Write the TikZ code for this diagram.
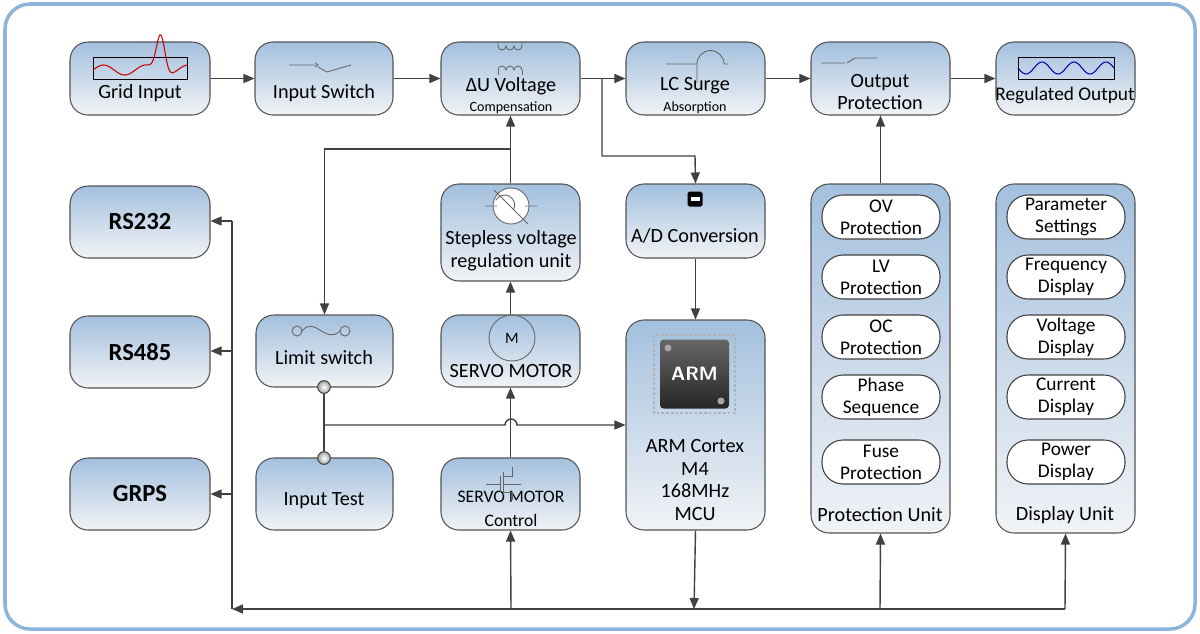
\documentclass[tikz,border=0pt]{standalone}
\usepackage{fontspec}
\setmainfont{Carlito}
\usetikzlibrary{arrows.meta,shapes.geometric}
\definecolor{frame}{HTML}{8DB4DA}
\definecolor{topc}{HTML}{A3C0DE}
\definecolor{botc}{HTML}{F1F3F6}
\definecolor{ln}{HTML}{404040}
\tikzset{
  box/.style={draw=ln!90,line width=0.6pt,rounded corners=0.36cm,top color=topc,bottom color=botc,inner sep=0},
  pill/.style={draw=ln,line width=0.6pt,rounded corners=0.42cm,fill=white,minimum width=2.36cm,minimum height=0.88cm,align=center,font=\fontsize{11}{12.5}\selectfont,inner sep=0},
  lab/.style={font=\fontsize{11.5}{13}\selectfont,align=center,text=black},
  slab/.style={font=\fontsize{8}{9}\selectfont,text=black},
  arr/.style={draw=ln,line width=0.8pt,-{Triangle[length=0.22cm,width=0.18cm]}},
  con/.style={draw=ln,line width=0.8pt},
  ico/.style={draw=ln!80,line width=0.5pt},
  dot/.style={circle,draw=ln,line width=0.5pt,inner color=white,outer color=gray!70,minimum size=0.25cm,inner sep=0}
}
\newcommand\bx[5]{\node[box,minimum width={(#4-#2)*0.02cm},minimum height={(#5-#3)*0.02cm}] (#1) at ({(#2+#4)/2},{(#3+#5)/2}) {};}
\begin{document}
\begin{tikzpicture}[x=0.02cm,y=-0.02cm]
\useasboundingbox (0,0) rectangle (1200,633);
\draw[frame,line width=2pt,rounded corners=0.5cm] (5,4) rectangle (1195,629);
% row 1
\bx{grid}{70}{42}{210}{115}
\bx{isw}{255}{42}{393}{115}
\bx{du}{441}{42}{580}{115}
\bx{lc}{626}{42}{765}{115}
\bx{op}{811}{42}{950}{115}
\bx{reg}{996}{42}{1135}{115}
% left
\bx{rs232}{70}{186}{210}{258}
\bx{rs485}{70}{316}{210}{388}
\bx{grps}{70}{458}{210}{530}
\bx{lim}{256}{315}{393}{387}
\bx{itest}{256}{458}{393}{530}
\bx{step}{441}{184}{580}{281}
\bx{servo}{441}{315}{580}{387}
\bx{sctl}{441}{458}{580}{530}
\bx{ad}{626}{184}{765}{258}
\bx{mcu}{626}{320}{765}{530}
\bx{pu}{811}{184}{950}{533}
\bx{dsp}{996}{184}{1135}{533}
% labels
\node[lab] (tgrid) at (140,93) {Grid Input};
\node[lab] (tisw) at (324,93) {Input Switch};
\node[lab] (tdu) at (511,86) {ΔU Voltage};
\node[slab] (tdu2) at (511,108) {Compensation};
\node[lab] (tlc) at (695,86) {LC Surge};
\node[slab] (tlc2) at (695,108) {Absorption};
\node[lab] (top) at (880,92) {Output\\Protection};
\node[lab,font=\fontsize{11}{13}\selectfont] (treg) at (1065,95) {Regulated Output};
\node[lab,font=\fontsize{14}{15}\selectfont\bfseries] (t1) at (140,222) {RS232};
\node[lab,font=\fontsize{14}{15}\selectfont\bfseries] (t2) at (140,352) {RS485};
\node[lab,font=\fontsize{14}{15}\selectfont\bfseries] (t3) at (140,494) {GRPS};
\node[lab] (tlim) at (324,358) {Limit switch};
\node[lab] (tit) at (324,501) {Input Test};
\node[lab] (tstep) at (511,251) {Stepless voltage\\regulation unit};
\node[lab] (tservo) at (511,371) {SERVO MOTOR};
\node[font=\fontsize{10}{11}\selectfont] (tsc) at (511,497) {SERVO MOTOR};
\node[font=\fontsize{10}{11}\selectfont] (tsc2) at (511,520) {Control};
\node[lab] (tad) at (695,236) {A/D Conversion};
\node[lab] (tmcu) at (695,480) {ARM Cortex\\M4\\168MHz\\MCU};
\node[lab] (tpu) at (880,515) {Protection Unit};
\node[lab] (tdsp) at (1065,515) {Display Unit};
% pills
\node[pill] (p1) at (881,217) {OV\\Protection};
\node[pill] (p2) at (881,277) {LV\\Protection};
\node[pill] (p3) at (881,337) {OC\\Protection};
\node[pill] (p4) at (881,397) {Phase\\Sequence};
\node[pill] (p5) at (881,462) {Fuse\\Protection};
\node[pill] (d1) at (1066,217) {Parameter\\Settings};
\node[pill] (d2) at (1066,277) {Frequency\\Display};
\node[pill] (d3) at (1066,337) {Voltage\\Display};
\node[pill] (d4) at (1066,397) {Current\\Display};
\node[pill] (d5) at (1066,462) {Power\\Display};
% icons
\draw[ico,draw=black] (93,57) rectangle (187,79);
\draw[red!80!black,line width=0.6pt] plot[domain=0:1,samples=120,smooth] ({93+94*\x},{70-5*sin(800*\x)-38*exp(-((\x-0.72)^2)/0.004)});
\draw[ico,draw=black] (1018,57) rectangle (1114,79);
\draw[blue!70!black,line width=0.6pt] plot[domain=0:1,samples=80,smooth] ({1018+96*\x},{68+6*sin(1080*\x)});
\draw[ico] (289,65) -- (315,65) (318,67) -- (327,72) -- (351,65);
\draw[ico] (315,63) -- (318,65) -- (315,67);
\draw[ico] (498,46) arc[start angle=180,end angle=360,radius=0.08cm] arc[start angle=180,end angle=360,radius=0.08cm] arc[start angle=180,end angle=360,radius=0.08cm] (498,46) -- (498,42) (522,46) -- (522,42);
\draw[ico] (498,70) arc[start angle=180,end angle=0,radius=0.08cm] arc[start angle=180,end angle=0,radius=0.08cm] arc[start angle=180,end angle=0,radius=0.08cm];
\draw[ico] (498,70) -- (498,75) (522,70) -- (522,75);
\draw[ico] (666,64) -- (697,64) (697,64) arc[start angle=180,end angle=0,radius=0.27cm] -- (728,64) (697,64) -- (697,83);
\draw[ico] (821,63) -- (845,63) (847,63) -- (855,58) -- (877,58);
\node[circle,draw=ln!80,line width=0.5pt,fill=white,minimum size=0.72cm] (sc) at (511,206) {};
\draw[ico] (485,206) -- (497,206) (525,206) -- (537,206) (494,190) -- (528,224);
\draw[ico] (496,200) arc[start angle=150,end angle=-30,radius=0.2cm];
\node[circle,draw=ln!80,line width=0.5pt,minimum size=0.92cm,font=\fontsize{9}{9}\rmfamily] (mot) at (512,338) {M};
\draw[ico] (297,331) circle[radius=0.1cm] (345,331) circle[radius=0.1cm];
\draw[ico] (302,331) .. controls (315,315) and (325,345) .. (340,331);
\draw[ico] (486,484) -- (500,484) (500,476) -- (500,492) (503,472) -- (503,495) (503,476) -- (512,476) -- (512,467) (503,492) -- (512,492) -- (512,500) (503,484) -- (521,484);
\node[fill=black,rounded corners=1pt,minimum size=0.3cm,inner sep=0] (adic) at (695,199) {};
\node[fill=white,minimum width=0.18cm,minimum height=0.08cm,inner sep=0] at (695,199) {};
\draw[gray!60,line width=1.6pt,dash pattern=on 1.5pt off 1.2pt] (654,335) rectangle (735,413);
\node[rounded corners=2pt,inner sep=0,minimum size=1.38cm,top color=gray!80!black,bottom color=black!85,text=white,font=\bfseries\fontsize{11}{11}\sffamily] (chip) at (694.5,374) {ARM};
\fill[gray!70] (668,348) circle[radius=0.07cm] (721,401) circle[radius=0.07cm];
% connectors row1
\draw[arr] (grid) -- (isw);
\draw[arr] (isw) -- (du);
\draw[arr] (du) -- (lc);
\draw[arr] (lc) -- (op);
\draw[arr] (op) -- (reg);
\coordinate (b1) at (602,78);
\draw[arr] (b1) |- (695,156) -- (ad.north);
\draw[arr] (pu.north) -- (op.south);
\draw[arr] (step.north) -- (du.south);
\coordinate (b2) at (511,149);
\draw[arr] (b2) -| (lim.north);
\draw[arr] (servo.north) -- (step.south);
\draw[arr] (sctl.north) -- (servo.south);
\draw[arr] (ad.south) -- (mcu.north);
\node[dot] (d1c) at (324,387) {};
\node[dot] (d2c) at (324,458) {};
\draw[con] (d1c) -- (d2c);
\coordinate (h1) at (324,425);
\draw[arr] (h1) -- (505,425) arc[start angle=180,end angle=0,radius=0.12cm] -- (mcu.west |- h1);
\node[dot] at (324,387) {};
\node[dot] at (324,458) {};
% bus
\coordinate (bl) at (232,609);
\coordinate (br) at (1065,609);
\draw[arr] (br) -- (bl);
\draw[arr] (mcu.south) -- (694,609);
\draw[arr] (511,609) -- (sctl.south);
\draw[arr] (880,609) -- (pu.south);
\draw[arr] (br) -- (dsp.south);
\draw[con] (bl) -- (232,221);
\draw[arr] (232,221) -- (rs232.east |- 0,221);
\draw[arr] (232,351) -- (rs485.east |- 0,351);
\draw[arr] (232,494) -- (grps.east |- 0,494);
\end{tikzpicture}
\end{document}
